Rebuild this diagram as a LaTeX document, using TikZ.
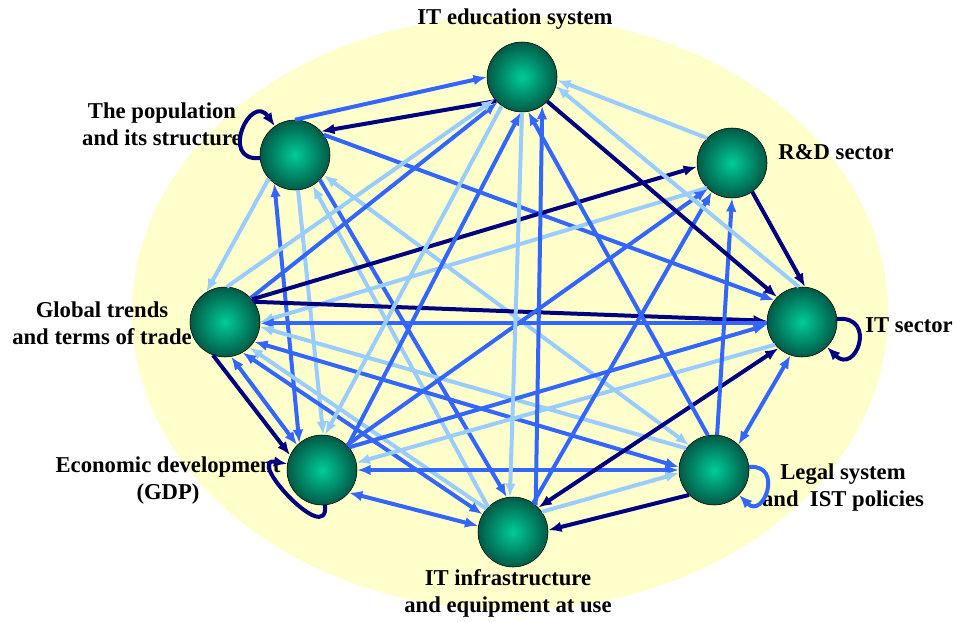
\documentclass[tikz,border=0pt]{standalone}
\usepackage{fontspec}
\setmainfont{Liberation Serif}
\usepackage{xcolor}
\usepackage{tikz}
\usetikzlibrary{positioning}
\usetikzlibrary{arrows.meta}
\definecolor{darkblue}{RGB}{0,0,128}
\definecolor{midblue}{RGB}{51,102,255}
\definecolor{lightblue}{RGB}{153,204,255}
\definecolor{paleyellow}{RGB}{255,255,204}
\definecolor{ballinner}{RGB}{0,204,153}
\definecolor{ballouter}{RGB}{0,90,70}
\tikzset{edge/.style = {->,> = {Latex[length=10pt,width=8pt]}}}

\begin{document}
\begin{tikzpicture}[x=0.75pt,y=-0.75pt,every loop/.style={},
  main node/.style={circle,draw=black,thin,minimum size=52.5pt,inner sep=0pt,inner color=ballinner,outer color=ballouter},
  text node/.style={font=\fontsize{17}{20.3}\selectfont\bfseries,align=center,inner sep=0pt},
  dark edge/.style={edge,color=darkblue,line width=3pt},
  mid edge/.style={edge,color=midblue,line width=3pt},
  light edge/.style={edge,color=lightblue,line width=3pt}]
                \useasboundingbox (0,0) rectangle (959,621);
                \fill[paleyellow] (510,313) ellipse [x radius=283.5pt, y radius=222.75pt];

                \node[main node] (1) at (522,77) {};
                \node[main node] (2) at (295,155) {};
                \node[main node] (3) at (225,322) {};
                \node[main node] (4) at (322,470) {};
                \node[main node] (5) at (513,532) {};
                \node[main node] (6) at (714,470) {};
                \node[main node] (7) at (802,322) {};
                \node[main node] (8) at (732,163) {};

                \node[text node] (1t) at (515,19) {IT education system};
                \node[text node] (2t) at (162,124) {The population\\and its structure};
                \node[text node] (3t) at (102,323) {Global trends\\and terms of trade};
                \node[text node] (4t) at (168,481) {Economic development\\(GDP)};
                \node[text node] (5t) at (508,593) {IT infrastructure\\and equipment at use};
                \node[text node] (6t) at (843,488) {Legal system\\and\ \ IST policies};
                \node[text node] (7t) at (909,325) {IT sector};
                \node[text node] (8t) at (836,152) {R\&D sector};

                % population
                \path[mid edge] (2.90) edge (1.180);
                \path[dark edge] (1.223) edge (2.42);
                \path[mid edge] (2.35) edge (7.142);
                \path[light edge] (2.222) edge (3.122);
                \path[mid edge,<->] (2.234) edge (4.130);
                \path[light edge] (2.275) edge (4.88);
                \path[mid edge] (2.315) edge (5.100);
                \path[light edge] (5.135) edge (2.300);
                \path[light edge,<->] (2.325) edge (6.135);
                \path[dark edge] (2) edge[out=185,in=125,looseness=3] (2);
                % global trends
                \path[mid edge] (3.43) edge (1.226);
                \path[light edge] (3.87) edge (1.219);
                \path[dark edge] (3.40) edge (8.186);
                \path[light edge] (8.225) edge (3.0);
                \path[dark edge] (3.35) edge (7.178);
                \path[mid edge] (7.182) edge (3.-2);
                \path[light edge] (6.142) edge (3.-8);
                \path[mid edge,<->] (3.-34) edge (6.175);
                \path[light edge] (5.139) edge (3.-46);
                \path[mid edge,<->] (3.-60) edge (5.150);
                \path[dark edge] (3.250) edge (4.155);
                \path[mid edge,<->] (3.-80) edge (4.135);
                % economic development
                \path[mid edge] (4.43) edge (1.268);
                \path[light edge] (1.235) edge (4.85);
                \path[mid edge] (4.45) edge (8.227);
                \path[mid edge] (4.40) edge (7.185);
                \path[light edge] (7.220) edge (4.12);
                \path[mid edge,<->] (4.0) edge (6.180);
                \path[mid edge,<->] (4.-40) edge (5.170);
                \path[dark edge] (4) edge[out=-85,in=170,looseness=2] (4);
                % infrastructure
                \path[light edge] (1.270) edge (5.95);
                \path[mid edge] (5.50) edge (1.-55);
                \path[mid edge] (5.55) edge (8.235);
                \path[dark edge,<->] (5.44) edge (7.228);
                \path[light edge] (5.35) edge (6.185);
                \path[dark edge] (6.225) edge (5.3);
                % legal system
                \path[mid edge] (6.100) edge (1.-80);
                \path[mid edge] (6.85) edge (8.-90);
                \path[mid edge,<->] (6.46) edge (7.-109);
                \path[mid edge] (6) edge[out=5,in=-45,looseness=3] (6);
                % IT sector and R&D
                \path[dark edge] (1.-44) edge (7.135);
                \path[dark edge] (8.-55) edge (7.85);
                \path[light edge] (8.135) edge (1.-5);
                \path[light edge] (7.95) edge (1.-15);
                \path[dark edge] (7) edge[out=5,in=-45,looseness=3.5] (7);
            \end{tikzpicture}
\end{document}
